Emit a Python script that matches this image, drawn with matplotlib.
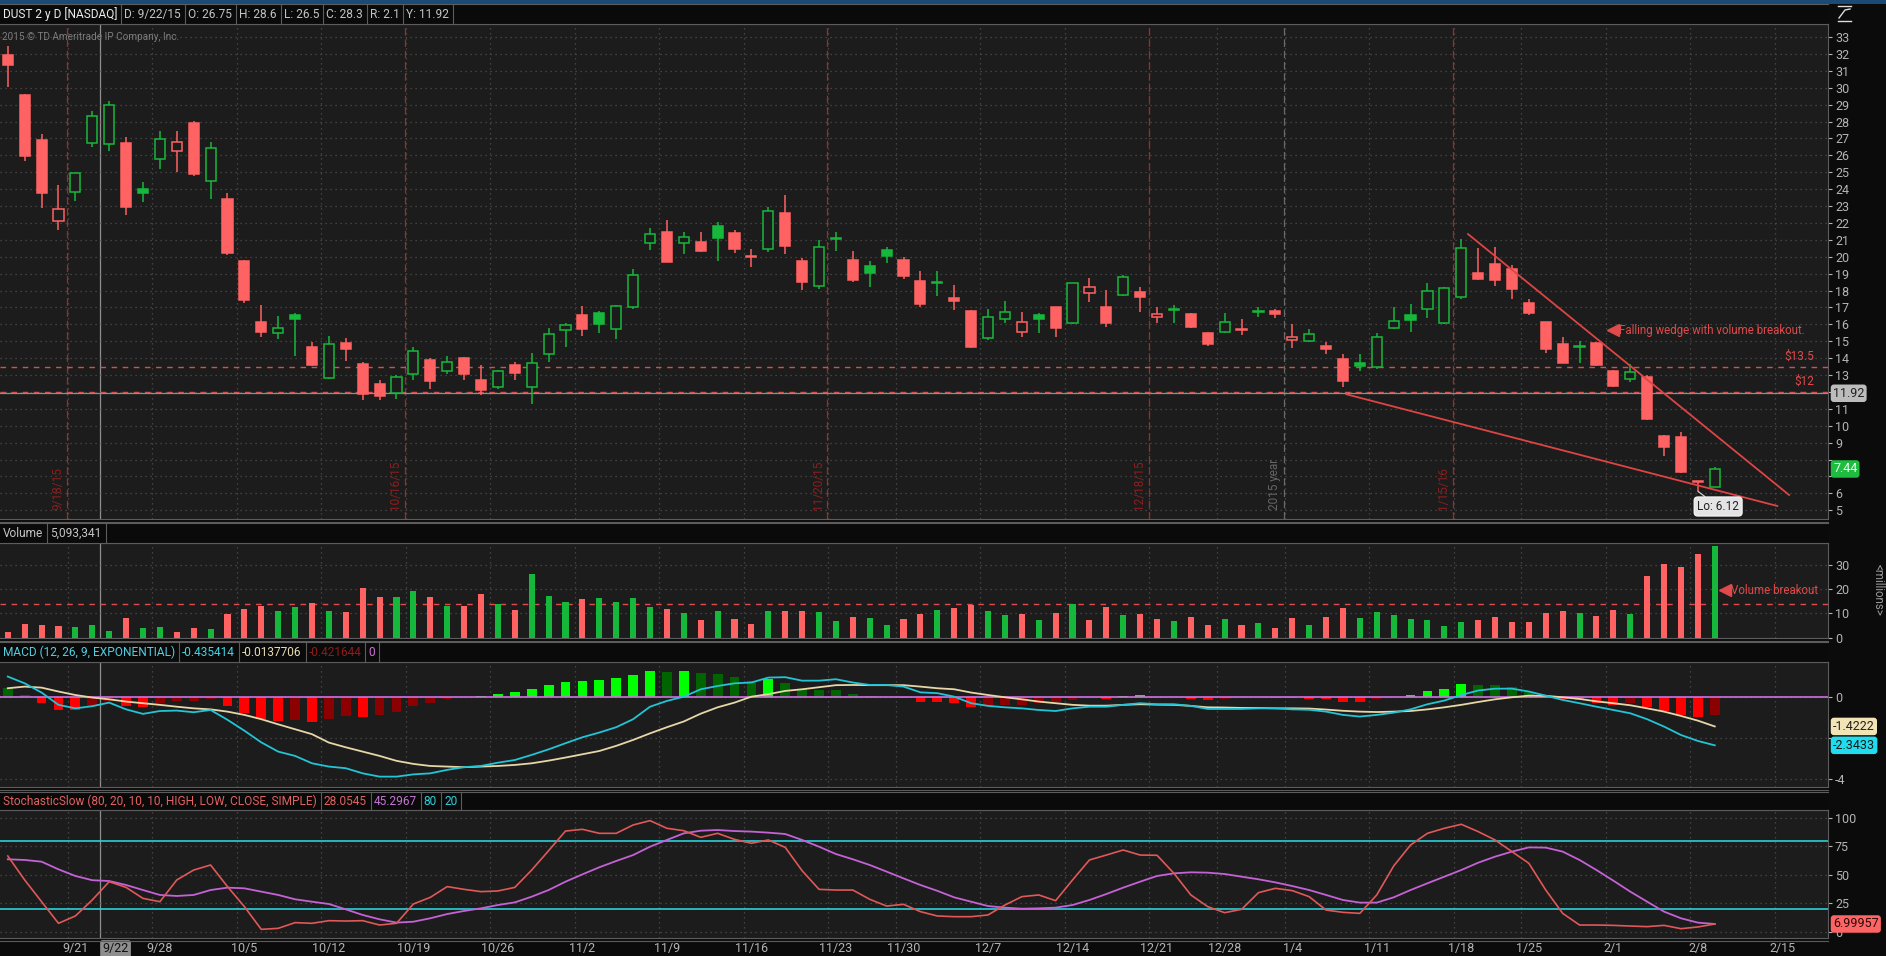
import matplotlib
matplotlib.use("Agg")
import matplotlib.pyplot as plt
from matplotlib.patches import Rectangle
from matplotlib.lines import Line2D
import matplotlib.transforms as mtransforms

plt.rcParams['font.family'] = ['Roboto', 'DejaVu Sans']

# ---------------- data ----------------
day = list(range(-4, 98))   # trading-day index, 0 = 9/21/15

opens = [31.93, 29.57, 26.90, 22.13, 23.85, 26.75, 26.65, 26.71, 24.00, 25.76,
         26.27, 27.89, 24.50, 23.39, 19.75, 16.16, 15.50, 16.55, 14.68, 12.80,
         14.91, 13.65, 12.47, 11.95, 13.04, 13.89, 13.26, 14.03, 12.70, 12.27,
         13.59, 12.31, 14.22, 15.64, 16.55, 16.65, 15.70, 17.04, 20.83, 21.48,
         20.83, 20.85, 21.82, 21.42, 20.00, 20.46, 22.61, 19.75, 18.29, 21.03,
         19.80, 19.45, 20.40, 19.80, 18.56, 18.50, 17.54, 16.79, 15.21, 16.29,
         15.56, 16.55, 17.00, 16.10, 17.83, 17.00, 17.73, 17.93, 16.41, 16.83,
         16.59, 15.47, 15.52, 15.70, 16.70, 16.79, 15.07, 15.01, 14.74, 13.93,
         13.73, 13.45, 15.76, 16.55, 16.89, 16.10, 17.64, 19.06, 19.57, 19.25,
         17.24, 16.12, 14.83, 14.66, 14.87, 13.26, 12.76, 12.86, 9.41, 9.35,
         6.75, 6.39]
highs = [32.47, 29.60, 27.24, 24.24, 24.97, 28.60, 29.23, 27.06, 24.44, 27.44,
         27.46, 28.05, 26.81, 23.75, 19.80, 17.14, 16.49, 16.65, 14.97, 15.31,
         15.17, 13.79, 12.70, 12.99, 14.68, 13.99, 14.12, 14.08, 13.59, 13.30,
         13.79, 14.28, 15.76, 16.06, 17.08, 16.80, 17.14, 19.30, 21.68, 22.17,
         21.48, 21.48, 22.07, 21.58, 20.46, 22.96, 23.65, 19.90, 20.99, 21.44,
         20.36, 19.75, 20.55, 20.00, 19.15, 19.17, 18.33, 16.85, 16.89, 17.40,
         16.75, 16.65, 17.04, 18.46, 18.72, 18.03, 18.92, 18.23, 17.04, 17.14,
         16.65, 15.56, 16.65, 16.29, 17.00, 16.89, 16.00, 15.70, 14.97, 14.24,
         14.24, 15.50, 17.04, 17.18, 18.46, 18.23, 21.03, 20.50, 20.59, 19.51,
         17.50, 16.12, 15.23, 15.03, 14.97, 13.30, 13.65, 13.00, 9.45, 9.61,
         6.75, 7.54]
lows = [30.02, 25.68, 22.90, 21.58, 23.30, 26.50, 26.27, 22.47, 23.26, 25.19,
        25.00, 24.79, 23.41, 20.10, 17.28, 15.23, 15.11, 14.12, 13.53, 12.74,
        13.85, 11.52, 11.52, 11.58, 12.70, 12.17, 13.06, 12.70, 11.82, 12.20,
        12.70, 11.28, 13.79, 14.68, 15.31, 15.47, 15.11, 16.90, 20.40, 19.70,
        20.16, 20.30, 19.77, 20.24, 19.41, 20.30, 20.16, 18.03, 18.07, 20.36,
        18.52, 18.23, 19.65, 18.68, 17.04, 17.69, 16.85, 14.58, 15.07, 16.06,
        15.27, 15.50, 15.27, 16.00, 17.34, 15.82, 17.69, 16.75, 16.10, 16.06,
        15.76, 14.74, 15.47, 15.37, 16.41, 16.39, 14.58, 14.97, 14.24, 12.31,
        13.26, 13.34, 15.70, 15.56, 16.35, 16.02, 17.48, 18.62, 18.27, 17.48,
        16.55, 14.32, 13.69, 13.73, 13.55, 12.31, 12.60, 10.34, 8.21, 7.22,
        6.12, 6.35]
closes = [31.34, 25.98, 23.79, 22.80, 24.95, 28.30, 28.98, 22.96, 23.79, 26.94,
          26.81, 24.89, 26.41, 20.22, 17.44, 15.56, 15.76, 16.31, 13.59, 14.81,
          14.54, 11.86, 11.78, 12.86, 14.42, 12.66, 13.79, 13.06, 12.11, 13.24,
          13.14, 13.69, 15.41, 15.94, 15.72, 16.02, 17.06, 18.92, 21.32, 19.71,
          21.15, 20.36, 21.13, 20.46, 19.96, 22.70, 20.65, 18.52, 20.55, 21.07,
          18.62, 19.06, 20.04, 18.88, 17.20, 18.46, 17.40, 14.68, 16.41, 16.75,
          16.16, 16.29, 15.80, 18.42, 18.19, 16.06, 18.82, 17.60, 16.61, 16.85,
          15.82, 14.81, 16.16, 15.64, 16.72, 16.59, 15.27, 15.41, 14.56, 12.66,
          13.55, 15.23, 16.20, 16.24, 17.97, 18.13, 20.50, 18.66, 18.60, 18.07,
          16.69, 14.52, 13.73, 14.68, 13.59, 12.37, 13.16, 10.38, 8.72, 7.28,
          6.65, 7.44]
volume_m = [2.1, 5.4, 5.0, 4.75, 4.3, 5.09, 2.7, 7.9, 3.9, 4.3,
            2.3, 3.9, 3.5, 9.7, 11.8, 13.0, 11.0, 12.6, 14.3, 11.0,
            10.5, 20.5, 16.7, 16.7, 19.2, 16.7, 13.0, 13.0, 18.0, 13.7,
            11.4, 26.2, 17.1, 14.7, 15.9, 16.3, 14.7, 16.3, 12.6, 11.8,
            10.1, 7.2, 11.0, 7.6, 5.6, 11.0, 11.0, 11.0, 10.5, 6.8,
            8.5, 8.1, 5.2, 7.6, 9.7, 11.4, 12.2, 13.6, 11.0, 9.3,
            9.7, 7.2, 10.1, 13.7, 7.2, 12.6, 9.3, 9.7, 7.6, 6.8,
            8.5, 5.2, 7.6, 5.2, 6.0, 3.9, 8.1, 5.2, 8.5, 12.2,
            8.1, 10.5, 9.3, 7.6, 7.2, 4.75, 6.4, 7.2, 8.5, 6.4,
            6.4, 10.1, 11.0, 10.1, 8.9, 11.4, 9.7, 25.4, 30.4, 29.1,
            34.5, 37.8]
macd_value = [1.01, 0.68, 0.23, -0.37, -0.54, -0.435, -0.26, -0.59, -0.81, -0.67,
              -0.65, -0.73, -0.62, -1.10, -1.63, -2.20, -2.65, -2.86, -3.22, -3.38,
              -3.46, -3.71, -3.87, -3.87, -3.76, -3.71, -3.54, -3.41, -3.35, -3.19,
              -3.06, -2.81, -2.54, -2.24, -1.95, -1.72, -1.46, -1.07, -0.46, -0.18,
              0.03, 0.39, 0.55, 0.68, 0.72, 0.96, 0.98, 0.81, 0.81, 0.88,
              0.72, 0.60, 0.60, 0.52, 0.24, 0.20, 0.03, -0.29, -0.42, -0.49,
              -0.54, -0.62, -0.67, -0.54, -0.46, -0.46, -0.37, -0.29, -0.34, -0.34,
              -0.42, -0.57, -0.57, -0.57, -0.54, -0.54, -0.59, -0.61, -0.70, -0.86,
              -0.94, -0.86, -0.75, -0.59, -0.34, -0.16, 0.11, 0.33, 0.42, 0.42,
              0.28, 0.08, -0.13, -0.29, -0.46, -0.62, -0.78, -1.07, -1.43, -1.84,
              -2.13, -2.3433]
macd_avg = [0.44, 0.52, 0.47, 0.28, 0.11, -0.014, -0.10, -0.21, -0.29, -0.37,
            -0.46, -0.54, -0.59, -0.70, -0.86, -1.07, -1.32, -1.56, -1.80, -2.21,
            -2.44, -2.65, -2.86, -3.10, -3.25, -3.35, -3.38, -3.41, -3.38, -3.35,
            -3.30, -3.22, -3.09, -2.94, -2.78, -2.62, -2.37, -2.08, -1.76, -1.46,
            -1.18, -0.80, -0.49, -0.26, 0.03, 0.15, 0.31, 0.39, 0.49, 0.59,
            0.60, 0.59, 0.59, 0.59, 0.52, 0.44, 0.39, 0.23, 0.11, 0.00,
            -0.10, -0.21, -0.29, -0.37, -0.41, -0.41, -0.37, -0.34, -0.36, -0.37,
            -0.42, -0.49, -0.50, -0.52, -0.52, -0.54, -0.54, -0.55, -0.60, -0.66,
            -0.70, -0.72, -0.70, -0.67, -0.59, -0.49, -0.37, -0.23, -0.10, 0.00,
            0.08, 0.07, 0.00, -0.08, -0.20, -0.29, -0.39, -0.54, -0.70, -0.91,
            -1.14, -1.4222]
macd_diff = [0.44, 0.11, -0.29, -0.62, -0.64, -0.42, -0.16, -0.42, -0.46, -0.26,
             -0.20, -0.16, -0.07, -0.42, -0.78, -1.07, -1.14, -1.10, -1.20, -1.06,
             -0.89, -0.94, -0.88, -0.70, -0.41, -0.26, -0.10, -0.02, 0.07, 0.16,
             0.26, 0.41, 0.60, 0.73, 0.80, 0.85, 0.94, 1.09, 1.28, 1.22,
             1.28, 1.19, 1.14, 1.01, 0.81, 0.89, 0.72, 0.42, 0.36, 0.34,
             0.18, 0.07, 0.02, -0.03, -0.23, -0.24, -0.28, -0.47, -0.41, -0.39,
             -0.37, -0.29, -0.24, -0.13, -0.04, -0.08, 0.07, 0.11, 0.01, -0.01,
             -0.07, -0.11, -0.07, -0.06, -0.02, -0.03, -0.05, -0.07, -0.10, -0.21,
             -0.24, -0.10, -0.02, 0.10, 0.29, 0.39, 0.65, 0.60, 0.58, 0.49,
             0.28, 0.05, -0.10, -0.13, -0.29, -0.39, -0.29, -0.49, -0.65, -0.86,
             -0.94, -0.86]
stoch_k = [66.5, 45.5, 26.5, 7.6, 14.0, 28.05, 44.0, 39.0, 29.4, 26.5,
           45.5, 54.2, 58.6, 39.7, 22.2, 2.3, 3.2, 8.2, 7.6, 9.9,
           9.6, 9.9, 6.1, 7.6, 24.5, 30.3, 39.7, 37.3, 35.3, 35.9,
           39.0, 54.2, 71.1, 88.3, 89.8, 86.3, 86.3, 93.6, 97.4, 90.7,
           88.6, 82.8, 86.3, 81.0, 77.6, 80.5, 74.0, 53.6, 37.3, 36.7,
           36.7, 28.6, 22.7, 24.2, 17.8, 14.0, 13.4, 13.4, 14.9, 23.6,
           30.9, 32.4, 27.4, 45.5, 63.0, 67.3, 71.7, 67.3, 67.1, 51.3,
           32.4, 22.2, 16.9, 19.8, 34.4, 38.2, 36.2, 30.9, 19.2, 17.2,
           16.3, 32.4, 57.7, 76.1, 86.3, 90.7, 94.2, 87.8, 80.5, 70.3,
           60.1, 36.7, 16.3, 6.1, 6.1, 5.8, 5.2, 4.7, 5.8, 2.9,
           4.4, 7.0]
stoch_d = [63.6, 63.0, 61.5, 54.8, 49.0, 45.3, 44.6, 41.1, 36.7, 32.4,
           31.5, 32.4, 36.7, 38.8, 38.2, 35.3, 32.4, 28.6, 26.5, 24.5,
           19.8, 14.9, 11.1, 8.2, 9.0, 12.0, 15.7, 18.4, 20.7, 23.6,
           25.9, 30.9, 36.7, 44.0, 50.4, 56.6, 62.1, 67.3, 74.6, 80.5,
           86.3, 88.6, 89.2, 88.3, 87.8, 86.9, 85.7, 80.5, 74.6, 68.2,
           63.6, 58.6, 52.8, 46.9, 41.1, 36.0, 30.3, 26.5, 22.7, 21.3,
           20.4, 20.7, 21.3, 23.6, 28.0, 33.2, 38.8, 44.0, 49.0, 51.3,
           52.2, 51.9, 50.7, 48.4, 46.1, 43.4, 40.2, 36.7, 32.4, 28.0,
           25.7, 25.7, 30.3, 36.7, 42.6, 48.4, 54.2, 60.6, 65.9, 70.3,
           74.0, 73.8, 70.3, 63.0, 54.2, 44.9, 35.3, 26.5, 17.8, 12.0,
           8.2, 7.0]

week_labels = ['9/21', '9/28', '10/5', '10/12', '10/19', '10/26', '11/2', '11/9',
               '11/16', '11/23', '11/30', '12/7', '12/14', '12/21', '12/28', '1/4',
               '1/11', '1/18', '1/25', '2/1', '2/8', '2/15']
week_index = [0, 5, 10, 15, 20, 25, 30, 35, 40, 45, 49, 54, 59, 64, 68, 72,
              77, 82, 86, 91, 96, 101]
expiry_labels = ['9/18/15', '10/16/15', '11/20/15', '12/18/15', '1/15/16']
expiry_pos = [-0.5, 19.5, 44.5, 63.5, 81.5]
year_pos = 71.5
cursor_pos = 1.45
cursor_price = 11.92
levels = [13.5, 12.0]
level_labels = ['$13.5', '$12']
volume_level = 13.8
upper_trend = ([82.4, 101.4], [21.34, 5.9])
lower_trend = ([75.2, 100.7], [11.86, 5.25])
stoch_levels = [80, 20]
price_ticks = list(range(5, 34))
hidden_price_ticks = [12, 8, 7]

# ---------------- style ----------------
W, H = 1886, 956
RIGHT = 1828
XMIN, XMAX = -4.46, 103.7
FIG_BG = '#0b0b0b'
PANEL_BG = '#1c1c1c'
HEAD_BG = '#0a0a0a'
BORDER = '#5c5c5c'
GRID = '#4e4e4e'
TXT = '#b4b4b4'
RED = '#ff6262'
GREEN = '#16b83c'
EXP_RED = '#b02424'
LINE_RED = '#de4444'
HFS = 8.6

fig = plt.figure(figsize=(W / 100, H / 100), dpi=100, facecolor=FIG_BG)
renderer = fig.canvas.get_renderer()


def frect(x0, y0, x1, y1, **kw):
    fig.add_artist(Rectangle((x0 / W, 1 - y1 / H), (x1 - x0) / W, (y1 - y0) / H,
                             transform=fig.transFigure, **kw))


def fline(xs, ys, **kw):
    fig.add_artist(Line2D([x / W for x in xs], [1 - y / H for y in ys],
                          transform=fig.transFigure, **kw))


def ftext(x, y, s, **kw):
    return fig.text(x / W, 1 - y / H, s, **kw)


def header(y0, y1, items):
    frect(0, y0, RIGHT, y1, facecolor=HEAD_BG, edgecolor='none')
    fline([0, RIGHT], [y0, y0], color=BORDER, lw=0.8)
    fline([0, RIGHT], [y1, y1], color=BORDER, lw=0.8)
    x = 0
    for (s, c) in items:
        t = ftext(x + 3, (y0 + y1) / 2 + 0.5, s, color=c, fontsize=HFS, va='center', ha='left')
        bb = t.get_window_extent(renderer)
        x = bb.x1 + 4
        fline([x, x], [y0, y1], color=BORDER, lw=0.8)


def panel(top, bottom, ylim):
    ax = fig.add_axes([0, 1 - bottom / H, RIGHT / W, (bottom - top) / H])
    ax.set_facecolor(PANEL_BG)
    ax.set_xlim(XMIN, XMAX)
    ax.set_ylim(*ylim)
    for k, s in ax.spines.items():
        s.set_color(BORDER)
        s.set_linewidth(0.8)
    ax.spines['left'].set_visible(False)
    ax.yaxis.tick_right()
    ax.tick_params(axis='y', colors=TXT, labelsize=9, length=3, pad=2, width=0.8)
    ax.tick_params(axis='x', bottom=False, labelbottom=False)
    for w in week_index:
        ax.axvline(w - 0.45, color=GRID, lw=0.9, ls=(0, (1, 3)), zorder=0)
    ax.axvline(cursor_pos, color='#8e8e8e', lw=0.9, zorder=1)
    fline([0, RIGHT], [bottom + 2.5, bottom + 2.5], color=BORDER, lw=0.8)
    return ax


def right_label(ax, y, s, fc, tc):
    ax.text(1 + 5 / RIGHT, y, s, transform=ax.get_yaxis_transform(), ha='left', va='center',
            fontsize=9, color=tc, clip_on=False, zorder=20,
            bbox=dict(boxstyle='round,pad=0.18,rounding_size=0.25', fc=fc, ec='none'))


# top frame strip and main header
frect(0, 0, W, 4, facecolor='#1b4b74', edgecolor='none')
header(4, 24, [('DUST 2 y D [NASDAQ]', '#ececec'), ('D: 9/22/15', '#c4c4c4'),
               ('O: 26.75', '#c4c4c4'), ('H: 28.6', '#c4c4c4'), ('L: 26.5', '#c4c4c4'),
               ('C: 28.3', '#c4c4c4'), ('R: 2.1', '#c4c4c4'), ('Y: 11.92', '#c4c4c4')])
# small icon at top right
fline([1838, 1851], [6, 6], color='#dddddd', lw=1.0)
fline([1838, 1851], [21, 21], color='#dddddd', lw=1.0)
fline([1839, 1845, 1850], [18, 10, 9], color='#dddddd', lw=1.0)

# ---------------- price panel ----------------
axp = panel(24, 519, (4.48, 33.77))
axp.set_yticks(price_ticks)
axp.set_yticklabels(['' if v in hidden_price_ticks else str(v) for v in price_ticks])
axp.grid(axis='y', color=GRID, lw=0.9, ls=(0, (1, 3)), zorder=0)
for xe, lab in zip(expiry_pos, expiry_labels):
    axp.axvline(xe, color=EXP_RED, lw=0.9, ls=(0, (6, 3)), zorder=1)
    axp.text(xe - 0.15, 5.0, lab, rotation=90, ha='right', va='bottom', color='#8c1f1f',
             fontsize=8.5)
axp.axvline(year_pos, color='#6a6a6a', lw=0.9, ls=(0, (6, 3)), zorder=1)
axp.text(year_pos - 0.15, 5.0, '2015 year', rotation=90, ha='right', va='bottom',
         color='#666666', fontsize=8.5)
for lv, lab in zip(levels, level_labels):
    axp.axhline(lv, color='#e04a4a', lw=1.0, ls=(0, (4, 4)), zorder=2)
    axp.text(102.9, lv + 0.22, lab, ha='right', va='bottom', color='#e04a4a', fontsize=8.5)
axp.axhline(cursor_price, color='#8e8e8e', lw=0.9, zorder=2)

prev = [opens[0]] + closes[:-1]
cand_col = [GREEN if c > p else RED for c, p in zip(closes, prev)]
hollow = [c > o for o, c in zip(opens, closes)]
bottoms = [min(o, c) for o, c in zip(opens, closes)]
heights = [max(abs(c - o), 0.07) for o, c in zip(opens, closes)]
faces = [PANEL_BG if h else col for h, col in zip(hollow, cand_col)]
axp.vlines(day, lows, highs, colors=cand_col, lw=1.1, zorder=3)
axp.bar(day, heights, bottom=bottoms, width=0.6, color=faces, edgecolor=cand_col,
        linewidth=1.1, zorder=4)

axp.plot(*upper_trend, color=LINE_RED, lw=1.3, zorder=5)
axp.plot(*lower_trend, color=LINE_RED, lw=1.3, zorder=5)
axp.plot([90.95], [15.66], marker='<', color='#e04a4a', ms=8, zorder=6)
axp.text(91.35, 15.66, 'Falling wedge with volume breakout.', color='#e04a4a', fontsize=8.3,
         ha='left', va='center')
axp.annotate('Lo: 6.12', xy=(96, 6.12), xytext=(97.2, 5.22), ha='center', va='center',
             fontsize=8.5, color='#222222', zorder=8,
             bbox=dict(boxstyle='round,pad=0.25,rounding_size=0.3', fc='#e4e4e4', ec='#f4f4f4'),
             arrowprops=dict(arrowstyle='-', color='#cfcfcf', lw=0.9, shrinkA=0, shrinkB=0))
ftext(2, 37, '2015 \u00a9 TD Ameritrade IP Company, Inc.', color='#7c7c7c', fontsize=7.2,
      va='center', ha='left')
right_label(axp, cursor_price, '11.92', '#bcbcbc', '#222222')
right_label(axp, closes[-1], '7.44', '#1fbd3f', '#f4fff4')

# ---------------- volume panel ----------------
header(523, 543, [('Volume', '#c4c4c4'), ('5,093,341', '#c4c4c4')])
axv = panel(543, 638, (-0.2, 39.05))
axv.set_yticks([0, 10, 20, 30])
axv.grid(axis='y', color=GRID, lw=0.9, ls=(0, (1, 3)), zorder=0)
axv.axhline(volume_level, color='#e04a4a', lw=1.0, ls=(0, (4, 4)), zorder=2)
axv.bar(day, volume_m, width=0.36, color=cand_col, zorder=3)
axv.plot([97.6], [19.6], marker='<', color='#e04a4a', ms=8, zorder=6)
axv.text(97.95, 19.6, 'Volume breakout', color='#e04a4a', fontsize=8.3, ha='left', va='center')
ftext(1878, 590, '<millions>', rotation=270, color='#9a9a9a', fontsize=8.3, ha='center',
      va='center')

# ---------------- MACD panel ----------------
header(642, 662, [('MACD (12, 26, 9, EXPONENTIAL)', '#52cfe0'), ('-0.435414', '#3fd6e6'),
                  ('-0.0137706', '#e8dcb2'), ('-0.421644', '#8e1b1b'), ('0', '#d070d8')])
axm = panel(662, 787, (-4.376, 1.72))
axm.set_yticks([0, -2, -4])
axm.set_yticklabels(['0', '', '-4'])
axm.grid(axis='y', color=GRID, lw=0.9, ls=(0, (1, 3)), zorder=0)
prev_diff = [macd_diff[0] + 0.1] + macd_diff[:-1]
hist_col = []
for v, p in zip(macd_diff, prev_diff):
    if v >= 0:
        hist_col.append('#00ff00' if v > p else '#006400')
    else:
        hist_col.append('#ff0000' if v < p else '#8b0000')
axm.bar(day, macd_diff, width=0.58, color=hist_col, zorder=2)
axm.axhline(0, color='#d070e0', lw=1.2, zorder=3)
axm.plot(day, macd_avg, color='#e6d6a8', lw=1.3, zorder=4)
axm.plot(day, macd_value, color='#22c4d6', lw=1.3, zorder=5)
right_label(axm, macd_avg[-1], '-1.4222', '#f3e4b6', '#222222')
right_label(axm, macd_value[-1], '-2.3433', '#1fdcee', '#1a1a1a')

# ---------------- Stochastic panel ----------------
header(792, 810, [('StochasticSlow (80, 20, 10, 10, HIGH, LOW, CLOSE, SIMPLE)', '#e06262'),
                  ('28.0545', '#e06262'), ('45.2967', '#c674d6'), ('80', '#2acfd8'),
                  ('20', '#2acfd8')])
axs = panel(810, 938, (-5.25, 106.7))
axs.set_yticks([0, 25, 50, 75, 100])
axs.grid(axis='y', color=GRID, lw=0.9, ls=(0, (1, 3)), zorder=0)
for lv in stoch_levels:
    axs.axhline(lv, color='#2ad0d8', lw=1.2, zorder=2)
axs.plot(day, stoch_d, color='#c462d6', lw=1.3, zorder=3)
axs.plot(day, stoch_k, color='#e05858', lw=1.2, zorder=4)
right_label(axs, stoch_k[-1], '6.99957', '#ff6464', '#2a0a0a')
axs.set_xticks(week_index)
axs.set_xticklabels(week_labels)
axs.tick_params(axis='x', bottom=True, labelbottom=True, colors=TXT, labelsize=9, length=0,
                pad=3)
trans = mtransforms.blended_transform_factory(axs.transData, axs.transAxes)
axs.text(cursor_pos + 0.15, -0.085, '9/22', transform=trans, ha='left', va='center',
         fontsize=9, color='#111111', clip_on=False, zorder=20,
         bbox=dict(boxstyle='round,pad=0.18,rounding_size=0.2', fc='#8e8e8e', ec='none'))

fig.savefig('out.png', dpi=100, facecolor=FIG_BG)
